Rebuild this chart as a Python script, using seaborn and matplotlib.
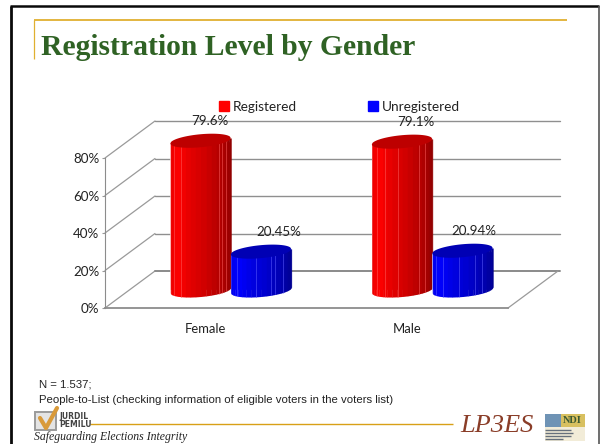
import numpy as np
import pandas as pd
import matplotlib
matplotlib.use("Agg")
import matplotlib.pyplot as plt
from matplotlib.patches import Rectangle, Polygon
import seaborn as sns

# ---- data -------------------------------------------------------------
genders = ["Female", "Male"]
statuses = ["Registered", "Unregistered"]
registered = [79.6, 79.1]
unregistered = [20.45, 20.94]
value_labels = ["79.6%", "79.1%", "20.45%", "20.94%"]
y_ticks = [0, 20, 40, 60, 80]
title_text = "Registration Level by Gender"
note_lines = ["N = 1.537;",
              "People-to-List (checking information of eligible voters in the voters list)"]

df = pd.DataFrame({
    "gender": genders * 2,
    "status": [statuses[0]] * 2 + [statuses[1]] * 2,
    "value": registered + unregistered,
})

# ---- figure ------------------------------------------------------------
W, H = 600, 444
sns.set_theme(style="white")
plt.rcParams["font.family"] = ["Lato", "DejaVu Sans"]
fig = plt.figure(figsize=(W / 100, H / 100), dpi=100, facecolor="white")


def axes_px(x0, y_top, x1, y_bot, **kw):
    return fig.add_axes([x0 / W, 1 - y_bot / H, (x1 - x0) / W, (y_bot - y_top) / H], **kw)


# decoration layer in pixel coordinates
deco = axes_px(0, 0, W, H)
deco.set_xlim(0, W)
deco.set_ylim(H, 0)
deco.axis("off")

# front plane of the chart: the scale of the value axis
px_per_unit_y = 37.5 / 20
ax = axes_px(105, 308 - 80 * px_per_unit_y, 508, 308, facecolor="none")
ax.set_xlim(-0.5, 1.5)
ax.set_ylim(0, 80)
ax.set_yticks(y_ticks)
ax.set_yticklabels([f"{v}%" for v in y_ticks], fontsize=9.6, color="#222222")
ax.set_xticks(range(len(genders)))
ax.set_xticklabels(genders, fontsize=9.4, color="#222222")
ax.set_xticks([-0.5, 0.5, 1.5], minor=True)
ax.tick_params(axis="x", which="major", length=0, pad=11)
ax.tick_params(axis="x", which="minor", length=2.5, width=0.8, color="#999999")
ax.tick_params(axis="y", length=2, width=0.8, color="#999999", pad=2, left=True)
for name, sp in ax.spines.items():
    sp.set_visible(name in ("left", "bottom"))
    sp.set_color("#8c8c8c")
ax.spines["bottom"].set_linewidth(1.3)
ax.spines["left"].set_linewidth(0.8)

# depth of the 3D box, expressed in the axes' own units
dx_unit = 50 / 201.5
dy_unit = 37.0 / px_per_unit_y
x_left, x_right = -0.5, 1.5
for v in y_ticks:
    ax.plot([x_left, x_left + dx_unit], [v, v + dy_unit], color="#9a9a9a", lw=0.9,
            clip_on=False, zorder=1)
    ax.plot([x_left + dx_unit, x_right + dx_unit + 0.01], [v + dy_unit, v + dy_unit],
            color="#8f8f8f" if v else "#8a8a8a", lw=1.0 if v else 1.4, clip_on=False, zorder=1)
ax.plot([x_right, x_right + dx_unit], [0, dy_unit], color="#9a9a9a", lw=0.9,
        clip_on=False, zorder=1)

# bars sit half-way into the box depth
bar_ax = axes_px(130, 290 - 80 * px_per_unit_y, 533, 290, facecolor="none")
palette = {"Registered": "#ff0000", "Unregistered": "#0000ff"}
sns.barplot(data=df, x="gender", y="value", hue="status", hue_order=statuses,
            order=genders, palette=palette, width=0.6, gap=0, saturation=1,
            ax=bar_ax, legend=False, dodge=True)
bar_ax.set_xlim(-0.5, 1.5)
bar_ax.set_ylim(0, 80)
bar_ax.axis("off")

ry = 6.5 / px_per_unit_y      # ellipse half-height in value units
slope_px = 0.09               # tilt of the ellipse, px per px
base_rgb = {0: np.array([1.0, 0, 0]), 1: np.array([0, 0, 1.0])}
top_col = {0: "#bd0000", 1: "#0000b4"}
slats = {
    (0, 0): [0.06, 0.17, 0.80, 0.86, 0.92],
    (0, 1): [0.10, 0.42, 0.66, 0.74, 0.86],
    (1, 0): [0.08, 0.22, 0.43, 0.78, 0.88],
    (1, 1): [0.06, 0.18, 0.44, 0.70, 0.82],
}
u_edges = 0.5 - 0.5 * np.cos(np.linspace(0, np.pi, 19))
shade_u = [0.0, 0.12, 0.35, 0.6, 0.85, 1.0]
shade_v = [0.92, 1.0, 0.88, 0.80, 0.68, 0.56]

patches = [p for p in bar_ax.patches if p.get_width() > 0]
order = np.argsort([p.get_x() for p in patches])
patches_sorted = [patches[i] for i in order]
label_offsets = [(7, 14), (13, 14), (10, 14), (8.5, 14)]
label_texts = [value_labels[0], value_labels[2], value_labels[1], value_labels[3]]
keys = [(0, 0), (0, 1), (1, 0), (1, 1)]

for idx, p in enumerate(patches_sorted):
    g, s = keys[idx]
    x0, w, top = p.get_x(), p.get_width(), p.get_height()
    c = x0 + w / 2
    slope = slope_px * (201.5 / px_per_unit_y)  # value units per x unit

    def tilt(x):
        return slope * (x - c)

    def half(x):
        return ry * np.sqrt(np.clip(1 - ((x - c) / (w / 2)) ** 2, 0, 1))

    xs = np.linspace(x0, x0 + w, 80)
    sil = np.concatenate([np.c_[xs, top + tilt(xs)], np.c_[xs[::-1], tilt(xs[::-1]) - half(xs[::-1])]])
    clip = Polygon(sil, transform=bar_ax.transData, fc="none", ec="none")
    bar_ax.add_patch(clip)
    p.set_clip_path(clip)
    p.set_zorder(2 + idx)
    z = 2 + idx + 0.1
    for a, b in zip(u_edges[:-1], u_edges[1:]):
        xx = np.linspace(x0 + a * w, x0 + b * w + 0.002, 6)
        col = base_rgb[s] * np.interp((a + b) / 2, shade_u, shade_v)
        bar_ax.fill_between(xx, tilt(xx) - half(xx), top + tilt(xx), color=col, lw=0, zorder=z, clip_on=False)
    for u in slats[(g, s)]:
        xl = x0 + u * w
        light = np.clip(base_rgb[s] * 0.9 + 0.38, 0, 1)
        bar_ax.plot([xl, xl], [tilt(xl) - half(xl), top + tilt(xl)], color=light, lw=0.5,
                    alpha=0.7, zorder=z + 0.1, clip_on=False)
    xt = np.linspace(x0, x0 + w, 80)
    ell = np.concatenate([np.c_[xt, top + tilt(xt) + half(xt)],
                          np.c_[xt[::-1], top + tilt(xt[::-1]) - half(xt[::-1])]])
    bar_ax.add_patch(Polygon(ell, fc=top_col[s], ec="none", zorder=z + 0.2, clip_on=False))
    bar_ax.annotate(label_texts[idx], (c, top), xytext=label_offsets[idx], textcoords="offset points",
                    ha="center", va="center", fontsize=9.6, color="#222222", zorder=20,
                    annotation_clip=False)

# legend, built from the two series colours
handles = [Rectangle((0, 0), 1, 1, color=palette[s]) for s in statuses]
fig.legend(handles, statuses, loc="center left", bbox_to_anchor=(219 / W, 1 - 106.5 / H), ncol=2,
           frameon=False, fontsize=9.8, handlelength=0.72, handleheight=0.72, handletextpad=0.3,
           columnspacing=5.2, borderpad=0, borderaxespad=0, labelcolor="#222222")

# ---- slide furniture ---------------------------------------------------
deco.plot([10.5, 10.5], [6, 444], color="#0a0a0a", lw=2, solid_capstyle="butt")
deco.plot([10, 599], [6, 6], color="#0a0a0a", lw=1.8, solid_capstyle="butt")
deco.plot([598.5, 598.5], [6, 444], color="#555555", lw=1.2, solid_capstyle="butt")
gold = "#e0b030"
deco.plot([34, 567], [20, 20], color=gold, lw=1.3, solid_capstyle="butt")
deco.plot([34, 34], [20, 59], color=gold, lw=0.9, solid_capstyle="butt")
deco.text(41, 55, title_text, family="Liberation Serif", weight="bold", fontsize=21.3,
          color="#2f6224", ha="left", va="baseline")
deco.text(39, 384, note_lines[0], family="Liberation Sans", fontsize=8.2, color="#222222", va="center")
deco.text(39, 400, note_lines[1], family="Liberation Sans", fontsize=8.2, color="#222222", va="center")

# Jurdil logo
deco.add_patch(Rectangle((35, 412), 21, 18, fc="#e4e4e4", ec="#9a9a9a", lw=1.4))
deco.plot([40, 46, 57], [418, 428, 408], color="#d99a3a", lw=3, solid_capstyle="round")
deco.text(59, 416.5, "JURDIL", family="DejaVu Sans", weight="bold", fontsize=5.5, color="#444444", va="center")
deco.text(59, 424.5, "PEMILU", family="DejaVu Sans", weight="bold", fontsize=5.5, color="#444444", va="center")
deco.plot([90, 453], [424, 424], color="#d8a017", lw=1.0, solid_capstyle="butt")
deco.text(34, 437, "Safeguarding Elections Integrity", family="Liberation Serif", style="italic",
          fontsize=8.5, color="#222222", va="center")

# partner logos
deco.text(460, 426, "LP3ES", family="Liberation Serif", style="italic", fontsize=19,
          color="#8a3d28", va="center")
deco.add_patch(Rectangle((545, 414), 40, 13, fc="#6f93b5", ec="none"))
deco.add_patch(Rectangle((561, 414), 24, 13, fc="#d8c060", ec="none"))
deco.text(563, 420.5, "NDI", family="Liberation Serif", weight="bold", fontsize=7.4, color="#3c5a32", va="center")
deco.add_patch(Rectangle((545, 427), 40, 14, fc="#f2ecd8", ec="none"))
for yy, ww in zip([430, 433, 436, 439], [26, 28, 26, 18]):
    deco.plot([545, 545 + ww], [yy, yy], color="#66707c", lw=1.0, solid_capstyle="butt")

fig.savefig("out.png", dpi=100, facecolor="white")
